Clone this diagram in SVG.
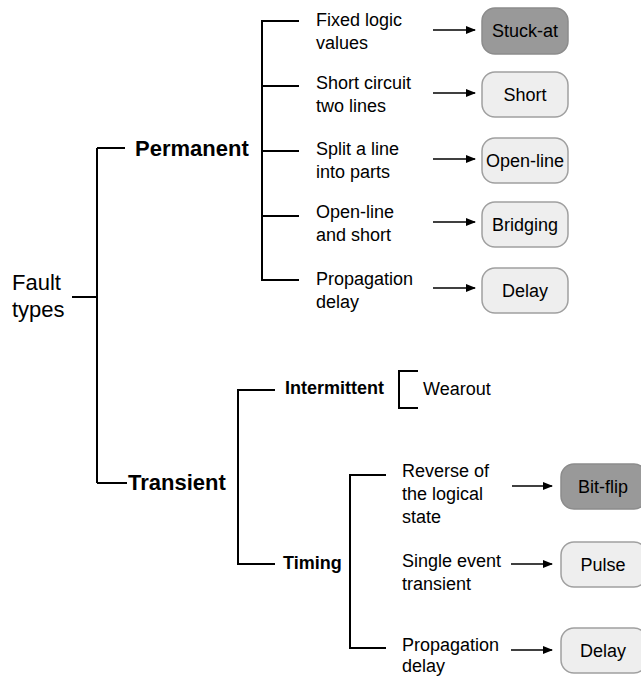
<svg xmlns="http://www.w3.org/2000/svg" width="641" height="677" viewBox="0 0 641 677">
<style>
text{font-family:"Liberation Sans",Arial,sans-serif;fill:#000}
.t{font-size:18px}
.b{font-size:18px;font-weight:bold}
.big{font-size:22px}
.bigb{font-size:22px;font-weight:bold}
.br{fill:none;stroke:#000;stroke-width:2}
.ar{fill:none;stroke:#000;stroke-width:1.5;marker-end:url(#ah)}
.dark{fill:#999;stroke:#8c8c8c;stroke-width:1.5}
.light{fill:#eeeeee;stroke:#a0a0a0;stroke-width:1.5}
.bt{font-size:18px;text-anchor:middle}
</style>
<defs>
<marker id="ah" markerWidth="10" markerHeight="8" refX="9" refY="4" orient="auto" markerUnits="userSpaceOnUse">
<path d="M0,0 L10,4 L0,8 Z" fill="#000"/>
</marker>
</defs>
<g id="connectors">
<path class="br" d="M72,297 H97 M97,148 V483 M97,148 H125 M97,483 H127"/>
<path class="br" d="M299,21 H262 V280 H299 M262,86 H299 M262,151 H299 M262,216 H299"/>
<path class="br" d="M275,390 H238 V564 H275"/>
<path class="br" d="M418,371 H399 V408 H418"/>
<path class="br" d="M386,475 H350 V648 H386"/>
<path class="ar" d="M433,30 H475"/>
<path class="ar" d="M433,93 H475"/>
<path class="ar" d="M433,159 H475"/>
<path class="ar" d="M433,222 H475"/>
<path class="ar" d="M433,288 H475"/>
<path class="ar" d="M512,486 H552"/>
<path class="ar" d="M511,564 H552"/>
<path class="ar" d="M511,650 H552"/>
</g>
<g id="root"><text class="big" x="12" y="290">Fault</text><text class="big" x="12" y="317">types</text></g>
<g id="permanent"><text class="bigb" x="135" y="156">Permanent</text></g>
<g id="transient"><text class="bigb" x="128" y="490">Transient</text></g>
<g id="intermittent"><text class="b" x="285" y="394">Intermittent</text></g>
<g id="timing"><text class="b" x="283" y="569">Timing</text></g>
<g id="wearout"><text class="t" x="423" y="395">Wearout</text></g>
<g id="d1"><text class="t" x="316" y="26">Fixed logic</text><text class="t" x="316" y="49">values</text></g>
<g id="d2"><text class="t" x="316" y="89">Short circuit</text><text class="t" x="316" y="112">two lines</text></g>
<g id="d3"><text class="t" x="316" y="155">Split a line</text><text class="t" x="316" y="178">into parts</text></g>
<g id="d4"><text class="t" x="316" y="218">Open-line</text><text class="t" x="316" y="241">and short</text></g>
<g id="d5"><text class="t" x="316" y="285">Propagation</text><text class="t" x="316" y="308">delay</text></g>
<g id="d6"><text class="t" x="402" y="477">Reverse of</text><text class="t" x="402" y="500">the logical</text><text class="t" x="402" y="523">state</text></g>
<g id="d7"><text class="t" x="402" y="567">Single event</text><text class="t" x="402" y="590">transient</text></g>
<g id="d8"><text class="t" x="402" y="651">Propagation</text><text class="t" x="402" y="672">delay</text></g>
<g id="stuck"><rect class="dark" x="482" y="8" width="86" height="46" rx="13"/><text class="bt" x="525" y="37">Stuck-at</text></g>
<g id="short"><rect class="light" x="482" y="72" width="86" height="45" rx="13"/><text class="bt" x="525" y="101">Short</text></g>
<g id="openline"><rect class="light" x="482" y="138" width="86" height="45" rx="13"/><text class="bt" x="525" y="167">Open-line</text></g>
<g id="bridging"><rect class="light" x="482" y="202" width="86" height="45" rx="13"/><text class="bt" x="525" y="231">Bridging</text></g>
<g id="delay1"><rect class="light" x="482" y="268" width="86" height="45" rx="13"/><text class="bt" x="525" y="297">Delay</text></g>
<g id="bitflip"><rect class="dark" x="561" y="464" width="86" height="45" rx="13"/><text class="bt" x="603" y="493">Bit-flip</text></g>
<g id="pulse"><rect class="light" x="561" y="542" width="86" height="45" rx="13"/><text class="bt" x="603" y="571">Pulse</text></g>
<g id="delay2"><rect class="light" x="561" y="628" width="86" height="45" rx="13"/><text class="bt" x="603" y="657">Delay</text></g>
</svg>
